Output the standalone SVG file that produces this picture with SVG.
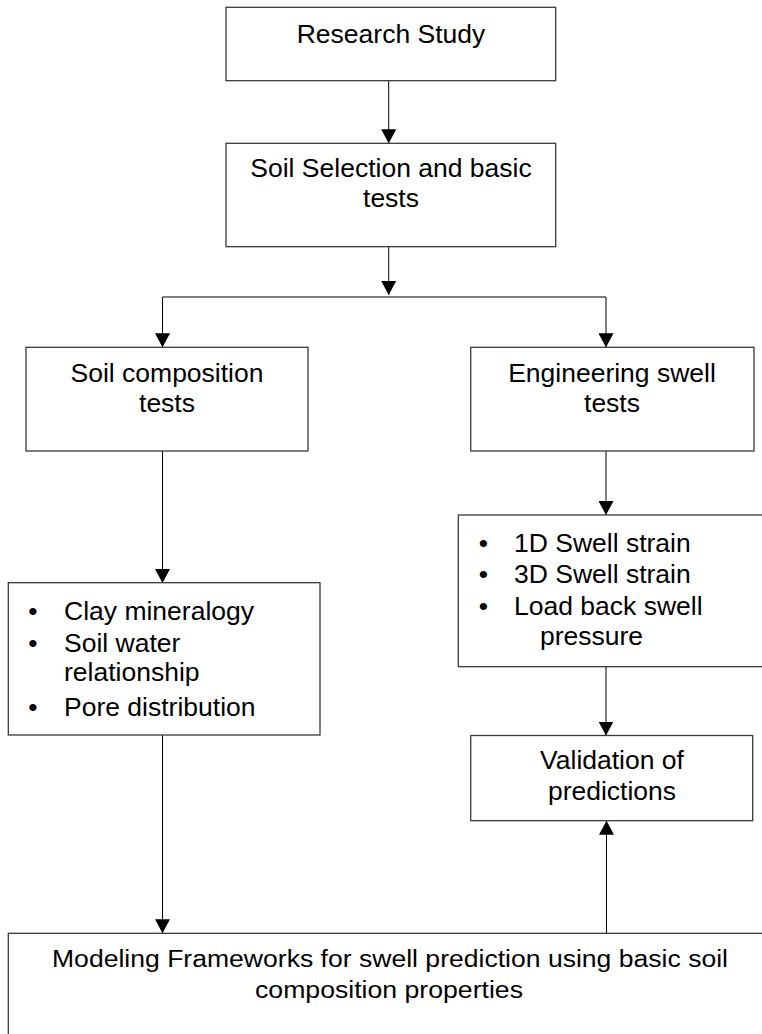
<svg xmlns="http://www.w3.org/2000/svg" width="762" height="1034" viewBox="0 0 762 1034">
<style>
.box{fill:#fff;stroke:#3a3a3a;stroke-width:1.3}
.t{font-family:"Liberation Sans",Arial,sans-serif;font-size:26.5px;fill:#000}
.c{text-anchor:middle}
.con{stroke:#000;stroke-width:1;fill:none}
</style>
<defs>
<marker id="ah" viewBox="0 0 14 15" refX="14" refY="7.5" markerWidth="14" markerHeight="15" markerUnits="userSpaceOnUse" orient="auto">
<path d="M0,0 L14,7.5 L0,15 z" fill="#000"/>
</marker>
</defs>
<rect width="762" height="1034" fill="#fff"/>
<g id="connectors">
<line class="con" x1="388.7" y1="80.7" x2="388.7" y2="143.3" marker-end="url(#ah)"/>
<line class="con" x1="388.7" y1="246.7" x2="388.7" y2="295" marker-end="url(#ah)"/>
<line class="con" x1="162.5" y1="297" x2="606" y2="297"/>
<line class="con" x1="162.5" y1="297" x2="162.5" y2="347.3" marker-end="url(#ah)"/>
<line class="con" x1="606" y1="297" x2="606" y2="347.3" marker-end="url(#ah)"/>
<line class="con" x1="162.5" y1="451" x2="162.5" y2="583" marker-end="url(#ah)"/>
<line class="con" x1="606" y1="451" x2="606" y2="515" marker-end="url(#ah)"/>
<line class="con" x1="606" y1="667" x2="606" y2="735.5" marker-end="url(#ah)"/>
<line class="con" x1="162.5" y1="735" x2="162.5" y2="933.3" marker-end="url(#ah)"/>
<line class="con" x1="606.5" y1="933.3" x2="606.5" y2="820.7" marker-end="url(#ah)"/>
</g>
<g id="research-study">
<rect class="box" x="226" y="7.3" width="329.7" height="73.4"/>
<text class="t c" x="391" y="42.7">Research Study</text>
</g>
<g id="soil-selection">
<rect class="box" x="226" y="143.3" width="329.7" height="103.4"/>
<text class="t c" x="391" y="176.7">Soil Selection and basic</text>
<text class="t c" x="391" y="206.7">tests</text>
</g>
<g id="soil-composition">
<rect class="box" x="26" y="347.3" width="282" height="103.7"/>
<text class="t c" x="167" y="381.7">Soil composition</text>
<text class="t c" x="167" y="411.7">tests</text>
</g>
<g id="engineering-swell">
<rect class="box" x="470.7" y="347.3" width="283.3" height="103.7"/>
<text class="t c" x="612" y="381.7">Engineering swell</text>
<text class="t c" x="612" y="411.7">tests</text>
</g>
<g id="composition-list">
<rect class="box" x="8.3" y="582.7" width="311.7" height="152.3"/>
<text class="t c" x="33" y="620">•</text>
<text class="t" x="64" y="620">Clay mineralogy</text>
<text class="t c" x="33" y="651.7">•</text>
<text class="t" x="64" y="651.7">Soil water</text>
<text class="t" x="64" y="680.7">relationship</text>
<text class="t c" x="33" y="715.7">•</text>
<text class="t" x="64" y="715.7">Pore distribution</text>
</g>
<g id="swell-list">
<rect class="box" x="458.3" y="515" width="310" height="151.7"/>
<text class="t c" x="483.3" y="552">•</text>
<text class="t" x="514" y="552">1D Swell strain</text>
<text class="t c" x="483.3" y="583">•</text>
<text class="t" x="514" y="583">3D Swell strain</text>
<text class="t c" x="483.3" y="614.5">•</text>
<text class="t" x="514" y="614.5">Load back swell</text>
<text class="t" x="540" y="645">pressure</text>
</g>
<g id="validation">
<rect class="box" x="470.7" y="735.5" width="282" height="85.2"/>
<text class="t c" x="612" y="769">Validation of</text>
<text class="t c" x="612" y="800">predictions</text>
</g>
<g id="modeling">
<rect class="box" x="8.3" y="933.3" width="770" height="120"/>
<text class="t" style="font-size:23px" x="52" y="967.3" textLength="676" lengthAdjust="spacingAndGlyphs">Modeling Frameworks for swell prediction using basic soil</text>
<text class="t" style="font-size:23px" x="255" y="998.3" textLength="268" lengthAdjust="spacingAndGlyphs">composition properties</text>
</g>
</svg>
